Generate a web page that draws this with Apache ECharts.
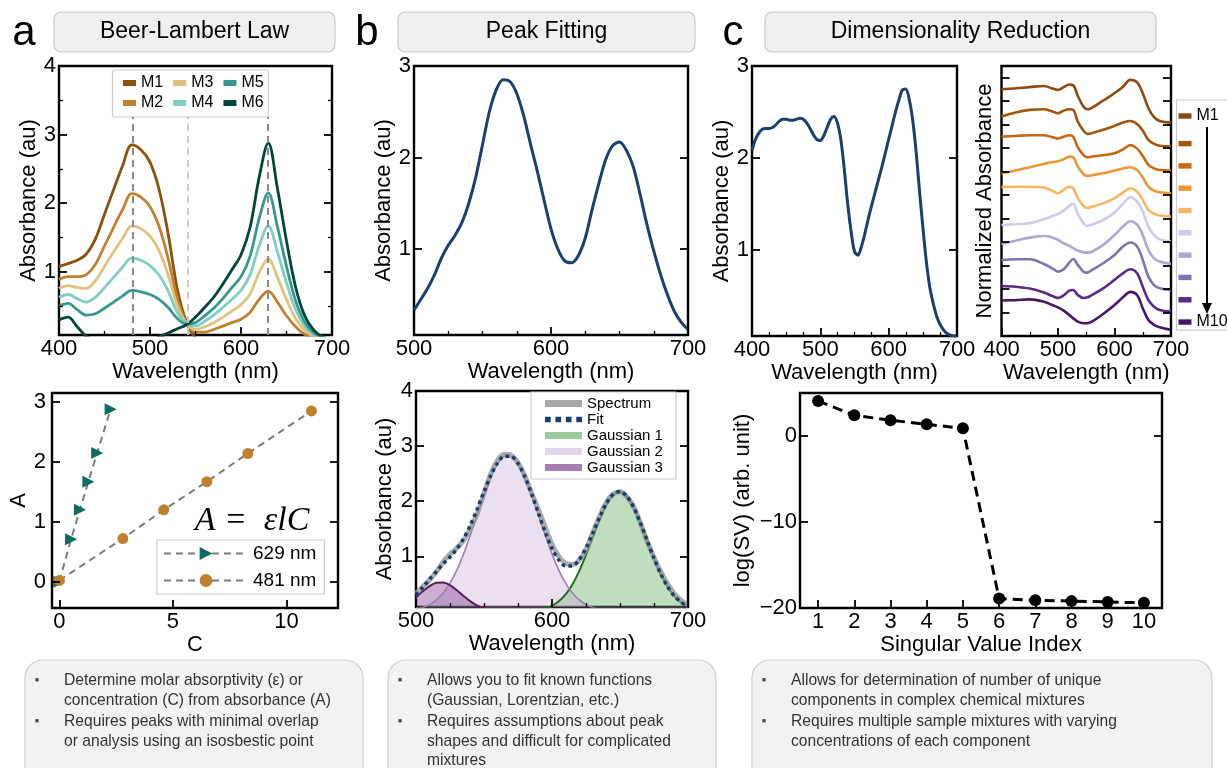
<!DOCTYPE html>
<html><head><meta charset="utf-8">
<script src="https://cdn.jsdelivr.net/npm/echarts@6/dist/echarts.min.js"></script>
<style>html,body{margin:0;padding:0;background:#fff}#chart{width:1227px;height:768px}</style>
</head><body><div id="chart"></div>
<script>
// ================= DATA =================
// Panel a (top): Beer-Lambert spectra
const wlA = [400,410,420,430,440,450,460,470,480,490,500,510,520,530,540,550,560,570,580,590,600,610,620,630,640,650,660,670,680,690,700];
const absM1 = [1.08,1.12,1.17,1.26,1.48,1.84,2.2,2.55,2.85,2.78,2.6,2.2,1.55,0.75,0.27,0.04,0,0,0,0,0,0,0,0,0,0,0,0,0,0,0];
const absM2 = [0.89,0.93,0.93,0.96,1.11,1.38,1.65,1.91,2.14,2.09,1.95,1.66,1.19,0.61,0.26,0.12,0.12,0.16,0.21,0.26,0.31,0.41,0.6,0.72,0.56,0.36,0.2,0.09,0.04,0.01,0];
const absM3 = [0.76,0.8,0.77,0.76,0.87,1.08,1.29,1.49,1.67,1.63,1.52,1.31,0.95,0.51,0.25,0.16,0.2,0.26,0.34,0.43,0.52,0.68,0.99,1.19,0.92,0.6,0.32,0.15,0.06,0.02,0];
const absM4 = [0.63,0.67,0.61,0.56,0.63,0.77,0.92,1.07,1.2,1.17,1.09,0.95,0.72,0.41,0.25,0.21,0.28,0.37,0.48,0.6,0.73,0.96,1.38,1.67,1.29,0.84,0.45,0.21,0.09,0.03,0.01];
const absM5 = [0.5,0.54,0.45,0.37,0.39,0.47,0.56,0.65,0.73,0.71,0.67,0.6,0.48,0.32,0.24,0.26,0.36,0.47,0.61,0.77,0.93,1.23,1.78,2.15,1.66,1.08,0.58,0.27,0.11,0.04,0.01];
const absM6 = [0.3,0.34,0.2,0.06,0.01,0,0,0,0,0,0,0.05,0.11,0.17,0.23,0.34,0.48,0.63,0.82,1.03,1.25,1.65,2.38,2.88,2.22,1.45,0.78,0.36,0.15,0.05,0.01];
const namesA = ['M1','M2','M3','M4','M5','M6'];
const refLinesA = [481, 541, 629];

// Panel a (bottom): calibration lines
const conc629 = [0, 0.52, 0.91, 1.28, 1.67, 2.26];
const abs629  = [0, 0.71, 1.2, 1.67, 2.15, 2.88];
const conc481 = [0, 2.8, 4.6, 6.5, 8.3, 11.1];
const abs481  = [0.02, 0.72, 1.2, 1.67, 2.14, 2.85];

// Panel b: peak fitting
const wlB = [500,505,510,515,520,525,530,535,540,545,550,555,560,565,570,575,580,585,590,595,600,605,610,615,620,625,630,635,640,645,650,655,660,665,670,675,680,685,690,695,700];
const spectrumB = [0.33,0.45,0.57,0.72,0.9,1.04,1.15,1.29,1.5,1.78,2.14,2.5,2.74,2.85,2.83,2.7,2.46,2.15,1.85,1.53,1.22,1.0,0.87,0.85,0.93,1.12,1.43,1.72,1.98,2.13,2.17,2.08,1.9,1.6,1.27,0.98,0.72,0.5,0.32,0.2,0.12];
const fitB = [0.296,0.435,0.584,0.728,0.86,0.988,1.134,1.322,1.566,1.859,2.173,2.466,2.694,2.817,2.814,2.685,2.446,2.131,1.78,1.438,1.145,0.932,0.822,0.825,0.94,1.149,1.421,1.707,1.958,2.126,2.175,2.092,1.89,1.608,1.284,0.963,0.678,0.449,0.279,0.163,0.09];
const gauss1B = [0,0,0,0,0,0,0,0,0,0,0,0,0,0,0,0,0,0.012,0.026,0.053,0.102,0.183,0.309,0.49,0.731,1.025,1.35,1.669,1.938,2.116,2.17,2.09,1.89,1.608,1.284,0.963,0.678,0.449,0.279,0.163,0.09];
const gauss2B = [0.038,0.071,0.124,0.209,0.335,0.513,0.749,1.043,1.385,1.754,2.119,2.441,2.683,2.813,2.813,2.683,2.441,2.119,1.754,1.385,1.043,0.749,0.513,0.335,0.209,0.124,0.071,0.038,0.02,0.01,0.005,0.002,0,0,0,0,0,0,0,0,0];
const gauss3B = [0.258,0.364,0.46,0.519,0.525,0.475,0.385,0.279,0.181,0.105,0.054,0.025,0.011,0.004,0.001,0,0,0,0,0,0,0,0,0,0,0,0,0,0,0,0,0,0,0,0,0,0,0,0,0,0];

// Panel c (top left): mixture spectrum
const wlC1 = [400,405,410,415,420,425,430,435,440,445,450,455,460,465,470,475,480,485,490,495,500,505,510,515,520,525,530,535,540,545,550,555,560,565,570,575,580,585,590,595,600,605,610,615,620,625,630,635,640,645,650,655,660,665,670,675,680,685,690,695,700];
const absC1 = [2.08,2.2,2.27,2.31,2.32,2.32,2.33,2.36,2.4,2.42,2.42,2.41,2.41,2.42,2.43,2.42,2.38,2.32,2.25,2.2,2.19,2.24,2.33,2.42,2.45,2.38,2.2,1.88,1.5,1.2,0.98,0.94,1.03,1.17,1.33,1.48,1.62,1.76,1.9,2.05,2.2,2.35,2.5,2.63,2.74,2.75,2.64,2.42,2.08,1.65,1.25,0.88,0.6,0.42,0.28,0.19,0.13,0.09,0.07,0.06,0.06];

// Panel c (top right): normalized, offset spectra of 10 mixtures
const wlC2 = [400,425,450,475,490,500,510,520,527,535,545,552,560,580,600,615,628,640,650,660,670,680,700];
const mixC1  = [10.51,10.55,10.60,10.65,10.54,10.48,10.60,10.71,10.68,10.23,9.77,9.66,9.72,10.03,10.34,10.62,10.91,10.80,10.34,9.70,9.32,9.16,9.09];
const mixC2  = [9.35,9.52,9.63,9.66,9.56,9.49,9.60,9.66,9.63,9.13,8.75,8.61,8.64,8.78,8.95,9.09,9.16,9.03,8.75,8.35,8.18,8.10,8.07];
const mixC3  = [8.49,8.52,8.55,8.55,8.47,8.41,8.49,8.55,8.49,8.04,7.71,7.61,7.64,7.70,7.78,7.95,8.13,7.98,7.67,7.29,7.14,7.07,7.05];
const mixC4  = [6.93,7.05,7.19,7.33,7.41,7.44,7.53,7.64,7.61,7.22,6.90,6.82,6.85,6.93,7.05,7.13,7.19,7.07,6.76,6.36,6.19,6.12,6.08];
const mixC5  = [6.34,6.36,6.36,6.32,6.19,6.08,6.22,6.36,6.29,5.87,5.54,5.45,5.51,5.65,5.87,6.11,6.29,6.15,5.80,5.37,5.20,5.13,5.09];
const mixC6  = [4.73,4.76,4.80,4.97,5.11,5.20,5.34,5.54,5.63,5.20,4.80,4.69,4.74,4.94,5.26,5.63,5.91,5.72,5.30,4.66,4.30,4.12,4.02];
const mixC7  = [3.92,4.06,4.19,4.26,4.20,4.09,3.95,3.84,3.74,3.64,3.57,3.55,3.59,3.88,4.30,4.66,4.89,4.74,4.30,3.66,3.31,3.17,3.07];
const mixC8  = [3.24,3.27,3.27,3.07,2.88,2.74,2.84,3.13,3.28,3.03,2.74,2.70,2.81,3.10,3.45,3.81,3.98,3.81,3.24,2.53,2.17,2.03,1.96];
const mixC9  = [2.13,2.10,2.02,1.85,1.70,1.62,1.73,1.93,1.96,1.75,1.62,1.65,1.75,2.03,2.39,2.67,2.84,2.67,2.10,1.53,1.25,1.11,1.04];
const mixC10 = [1.51,1.53,1.56,1.46,1.32,1.22,1.08,0.89,0.75,0.61,0.54,0.54,0.61,0.94,1.32,1.65,1.88,1.75,1.18,0.68,0.47,0.37,0.26];
const mixNamesC = ['Mixture 1','Mixture 2','Mixture 3','Mixture 4','Mixture 5','Mixture 6','Mixture 7','Mixture 8','Mixture 9','Mixture 10'];

// Panel c (bottom): singular values
const svIndex = [1,2,3,4,5,6,7,8,9,10];
const logSV = [4.07, 2.41, 1.83, 1.36, 0.9, -18.9, -19.1, -19.2, -19.3, -19.4];

// Text
const titles = ['Beer-Lambert Law', 'Peak Fitting', 'Dimensionality Reduction'];
const panelLetters = ['a', 'b', 'c'];
const notesA = ['Determine molar absorptivity (\u03b5) or', 'concentration (C) from absorbance (A)', 'Requires peaks with minimal overlap', 'or analysis using an isosbestic point'];
const notesB = ['Allows you to fit known functions', '(Gaussian, Lorentzian, etc.)', 'Requires assumptions about peak', 'shapes and difficult for complicated', 'mixtures'];
const notesC = ['Allows for determination of number of unique', 'components in complex chemical mixtures', 'Requires multiple sample mixtures with varying', 'concentrations of each component'];
const bulletLines = [0, 2];

// ================= STYLE / LAYOUT =================
const FONT = "'Liberation Sans', Arial, Helvetica, sans-serif";
const colorsA = ['#8c510a','#bf812d','#dfc27d','#80cdc1','#35978f','#01463a'];
const colorsC = ['#8b4a12','#a6530c','#c9690f','#ec9636','#fbb55f','#cdcbe5','#aea7d0','#8271af','#5a2a8a','#451768'];
const zip = (xs, ys) => xs.map((x, i) => [x, ys[i]]);

const grids = [], xAxes = [], yAxes = [];
function axisDef(gi, pos, s, kind) {
  const isMain = kind === 'main';
  const isMinor = kind === 'minor' || kind === 'mirrorMinor';
  const isX = pos === 'bottom' || pos === 'top';
  const ax = {
    type: 'value', gridIndex: gi, position: pos, min: s.min, max: s.max,
    axisLine: {show: false, onZero: false},
    splitLine: {show: false},
    axisTick: {show: true, inside: true, length: isMinor ? 4 : 8,
      customValues: isMinor ? s.minor : s.major, lineStyle: {color: '#000', width: isMinor ? 1.3 : 1.8}},
    axisLabel: {show: isMain && s.labels !== false, customValues: s.major, margin: s.margin == null ? 3 : s.margin,
      color: '#000', fontSize: 22, fontFamily: FONT,
      formatter: v => String(v).replace('-', '\u2212')},
    silent: true, z: 5
  };
  if (isMain && s.name) {
    Object.assign(ax, {name: s.name, nameLocation: 'middle', nameGap: s.gap, nameRotate: isX ? 0 : 90,
      nameTextStyle: {fontSize: 22, color: '#000', fontFamily: FONT}});
  }
  return ax;
}
function addPanel(box, xs, ys) {
  const gi = grids.length;
  grids.push({left: box[0], top: box[1], width: box[2], height: box[3], show: true,
    borderColor: '#000', borderWidth: 2.4, backgroundColor: 'rgba(0,0,0,0)'});
  const xi = xAxes.length, yi = yAxes.length;
  xAxes.push(axisDef(gi, 'bottom', xs, 'main'));
  if (xs.minor) xAxes.push(axisDef(gi, 'bottom', xs, 'minor'));
  yAxes.push(axisDef(gi, 'left', ys, 'main'));
  if (ys.minor) yAxes.push(axisDef(gi, 'left', ys, 'minor'));
  yAxes.push(axisDef(gi, 'right', ys, 'mirror'));
  if (ys.minor) yAxes.push(axisDef(gi, 'right', ys, 'mirrorMinor'));
  return {xi, yi};
}

const WL = 'Wavelength (nm)', ABS = 'Absorbance (au)';
const pA1 = addPanel([59, 66, 273, 269],
  {min: 400, max: 700, major: [400,500,600,700], minor: [450,550,650], name: WL, gap: 24},
  {min: 0.08, max: 4, major: [1,2,3,4], minor: [0.5,1.5,2.5,3.5], name: ABS, gap: 18});
const pA2 = addPanel([52, 393, 286, 215],
  {min: -0.32, max: 12.27, major: [0,5,10], name: 'C', gap: 22},
  {min: -0.44, max: 3.15, major: [0,1,2,3], name: 'A', gap: 19, margin: 6});
const pB1 = addPanel([414, 66, 274, 269],
  {min: 500, max: 700, major: [500,600,700], minor: [525,550,575,625,650,675], name: WL, gap: 24},
  {min: 0.06, max: 3, major: [1,2,3], name: ABS, gap: 18});
const pB2 = addPanel([416, 391, 272, 216],
  {min: 500, max: 700, major: [500,600,700], minor: [525,550,575,625,650,675], name: WL, gap: 24},
  {min: 0.08, max: 4, major: [1,2,3,4], name: ABS, gap: 20});
const pC1 = addPanel([752, 66, 205, 270],
  {min: 400, max: 700, major: [400,500,600,700], minor: [425,450,475,525,550,575,625,650,675], name: WL, gap: 24},
  {min: 0.06, max: 3, major: [1,2,3], name: ABS, gap: 14});
const pC2 = addPanel([1001.5, 66, 169.5, 270],
  {min: 400, max: 700, major: [400,500,600,700], minor: [450,550,650], name: WL, gap: 24},
  {min: 0, max: 11.5, major: [1,2,3,4,5,6,7,8,9,10,11], labels: false, name: 'Normalized Absorbance', gap: 6});
const pC3 = addPanel([800, 393, 362, 215],
  {min: 0.5, max: 10.5, major: svIndex, name: 'Singular Value Index', gap: 24},
  {min: -20, max: 5, major: [-20,-10,0], name: 'log(SV) (arb. unit)', gap: 46});

// ================= SERIES =================
const series = [];
const absA = [absM1, absM2, absM3, absM4, absM5, absM6];
absA.forEach((arr, i) => {
  const s = {type: 'line', name: namesA[i], xAxisIndex: pA1.xi, yAxisIndex: pA1.yi,
    data: zip(wlA, arr), smooth: 0.35, symbol: 'none', z: 3,
    lineStyle: {width: 2.8, color: colorsA[i]}, itemStyle: {color: colorsA[i]}};
  if (i === absA.length - 1) {
    s.markLine = {symbol: 'none', silent: true, label: {show: false}, animation: false,
      data: refLinesA.map(w => [
        {coord: [w, 0.08], lineStyle: {color: w === 541 ? '#c8c8c8' : '#8a8a8a', type: [7, 5], width: 2}},
        {coord: [w, 3.26]}])};
  }
  series.push(s);
});

series.push({type: 'line', name: '629 nm', xAxisIndex: pA2.xi, yAxisIndex: pA2.yi, data: zip(conc629, abs629),
  symbol: 'triangle', symbolRotate: -90, symbolSize: 12, itemStyle: {color: '#0b6b5e'},
  lineStyle: {color: '#7a7a7a', width: 2, type: [7, 5]}, z: 4});
series.push({type: 'line', name: '481 nm', xAxisIndex: pA2.xi, yAxisIndex: pA2.yi, data: zip(conc481, abs481),
  symbol: 'circle', symbolSize: 11, itemStyle: {color: '#bf812d'},
  lineStyle: {color: '#7a7a7a', width: 2, type: [7, 5]}, z: 4});

series.push({type: 'line', name: 'Absorbance b', xAxisIndex: pB1.xi, yAxisIndex: pB1.yi, data: zip(wlB, spectrumB),
  smooth: 0.3, symbol: 'none', lineStyle: {width: 3, color: '#1b3f6e'}});

series.push({type: 'line', name: 'Gaussian 1', xAxisIndex: pB2.xi, yAxisIndex: pB2.yi, data: zip(wlB, gauss1B),
  smooth: 0.3, symbol: 'none', lineStyle: {width: 2, color: '#1e6e1e'}, itemStyle: {color: '#1e6e1e'},
  areaStyle: {color: 'rgba(86,168,86,0.55)', origin: 'start'}, z: 2});
series.push({type: 'line', name: 'Gaussian 2', xAxisIndex: pB2.xi, yAxisIndex: pB2.yi, data: zip(wlB, gauss2B),
  smooth: 0.3, symbol: 'none', lineStyle: {width: 1.6, color: '#a57ab5'}, itemStyle: {color: '#a57ab5'},
  areaStyle: {color: 'rgba(196,166,212,0.5)', origin: 'start'}, z: 2});
series.push({type: 'line', name: 'Gaussian 3', xAxisIndex: pB2.xi, yAxisIndex: pB2.yi, data: zip(wlB, gauss3B),
  smooth: 0.3, symbol: 'none', lineStyle: {width: 2, color: '#5b1a5e'}, itemStyle: {color: '#5b1a5e'},
  areaStyle: {color: 'rgba(130,62,142,0.6)', origin: 'start'}, z: 2});
series.push({type: 'line', name: 'Spectrum', xAxisIndex: pB2.xi, yAxisIndex: pB2.yi, data: zip(wlB, spectrumB),
  smooth: 0.3, symbol: 'none', lineStyle: {width: 5, color: 'rgba(150,150,150,0.8)'}, itemStyle: {color: '#a8a8a8'}, z: 3});
series.push({type: 'line', name: 'Fit', xAxisIndex: pB2.xi, yAxisIndex: pB2.yi, data: zip(wlB, fitB),
  smooth: 0.3, symbol: 'none', lineStyle: {width: 3.5, color: '#163d6b', type: [3.5, 3.5]}, itemStyle: {color: '#163d6b'}, z: 4});

series.push({type: 'line', name: 'Absorbance c', xAxisIndex: pC1.xi, yAxisIndex: pC1.yi, data: zip(wlC1, absC1),
  smooth: 0.3, symbol: 'none', lineStyle: {width: 3, color: '#1b3f6e'}});

const mixC = [mixC1, mixC2, mixC3, mixC4, mixC5, mixC6, mixC7, mixC8, mixC9, mixC10];
mixC.forEach((arr, i) => series.push({type: 'line', name: mixNamesC[i], xAxisIndex: pC2.xi, yAxisIndex: pC2.yi,
  data: zip(wlC2, arr), smooth: 0.35, symbol: 'none', lineStyle: {width: 2.6, color: colorsC[i]}, itemStyle: {color: colorsC[i]}}));

series.push({type: 'line', name: 'log(SV)', xAxisIndex: pC3.xi, yAxisIndex: pC3.yi, data: zip(svIndex, logSV),
  symbol: 'circle', symbolSize: 12, itemStyle: {color: '#000'}, lineStyle: {color: '#000', width: 3, type: [10, 6]}});

// ================= LEGENDS =================
const legTxt = (size) => ({fontSize: size, color: '#000', fontFamily: FONT});
const legends = [
  {data: ['M1','M3','M5'], left: 123, top: 75, orient: 'horizontal', icon: 'rect', itemWidth: 13, itemHeight: 6, itemGap: 10, textStyle: legTxt(16), padding: 0, selectedMode: false, z: 6},
  {data: ['M2','M4','M6'], left: 123, top: 95, orient: 'horizontal', icon: 'rect', itemWidth: 13, itemHeight: 6, itemGap: 10, textStyle: legTxt(16), padding: 0, selectedMode: false, z: 6},
  {data: ['629 nm','481 nm'], left: 157, top: 540, orient: 'vertical', itemWidth: 84, itemHeight: 16, itemGap: 8,
   textStyle: legTxt(19), padding: [4, 8, 4, 6], borderColor: '#cccccc', borderWidth: 1.2, backgroundColor: '#fff', selectedMode: false, z: 6},
  {data: [
     {name: 'Spectrum', icon: 'rect', itemStyle: {color: '#a8a8a8'}},
     {name: 'Fit', icon: 'path://M0 0h6v6h-6z M11 0h6v6h-6z M22 0h6v6h-6z M33 0h6v6h-6z', itemStyle: {color: '#163d6b'}},
     {name: 'Gaussian 1', icon: 'rect', itemStyle: {color: '#9ccb9c'}},
     {name: 'Gaussian 2', icon: 'rect', itemStyle: {color: '#e2d4e8'}},
     {name: 'Gaussian 3', icon: 'rect', itemStyle: {color: '#a87db2'}}],
   left: 531, top: 392, orient: 'vertical', itemWidth: 37, itemHeight: 7, itemGap: 1,
   textStyle: legTxt(15), padding: [4, 13, 4, 14], borderColor: '#cccccc', borderWidth: 1.2, backgroundColor: '#fff', selectedMode: false, z: 6},
  {data: mixNamesC, left: 1176.5, top: 100, orient: 'vertical', icon: 'path://M0 0h12v5h-12z', itemWidth: 13, itemHeight: 16, itemGap: 11.6,
   formatter: n => n === mixNamesC[0] ? 'M1' : (n === mixNamesC[9] ? 'M10' : ''),
   textStyle: legTxt(16), padding: [8, 40, 0, 2], borderColor: '#cccccc', borderWidth: 1.2, backgroundColor: '#fff', selectedMode: false, z: 6}
];

// ================= GRAPHICS (boxes, titles, notes) =================
const graphics = [];
function rect(x, y, w, h, r, fill, stroke, z) {
  graphics.push({type: 'rect', shape: {x, y, width: w, height: h, r}, style: {fill, stroke, lineWidth: 1.2}, z: z || 0, silent: true});
}
function text(str, x, y, st, extra) {
  graphics.push(Object.assign({type: 'text', x, y, z: 10, silent: true,
    style: Object.assign({text: str, fill: '#000', fontSize: 22, fontFamily: FONT, align: 'center', verticalAlign: 'middle',
      textAlign: 'center', textVerticalAlign: 'middle'}, st)}, extra || {}));
}
const titleBoxes = [[54, 12, 281], [398, 12, 297], [765, 12, 391]];
titleBoxes.forEach((b, i) => {
  rect(b[0], b[1], b[2], 40, 7, '#efefef', '#c8c8c8');
  text(titles[i], b[0] + b[2] / 2, 32, {fontSize: 23});
});
[[24, 33], [367, 33], [733, 33]].forEach((p, i) => text(panelLetters[i], p[0], p[1], {fontSize: 42}));

// legend frame of panel a (two legend rows share one frame)
rect(112.5, 70, 156, 47, 2, '#ffffff', '#cccccc', 5);
// Beer-Lambert formula
text('A =  \u03b5lC', 252, 521, {fontSize: 34, fontStyle: 'italic', fontFamily: "'Liberation Serif', 'DejaVu Serif', serif"});
// arrow beside M1..M10 legend
graphics.push({type: 'line', shape: {x1: 1207, y1: 127, x2: 1207, y2: 305}, style: {stroke: '#000', lineWidth: 2}, z: 10, silent: true});
graphics.push({type: 'polygon', shape: {points: [[1202, 303], [1212, 303], [1207, 314]]}, style: {fill: '#000'}, z: 10, silent: true});

// notes boxes
const noteBoxes = [[25, 338, notesA], [388, 328, notesB], [752, 460, notesC]];
const lineY = [680, 700, 721, 741, 760];
noteBoxes.forEach(([x, w, lines]) => {
  rect(x, 660, w, 140, 18, '#f2f2f2', '#cfcfcf');
  lines.forEach((ln, j) => {
    if (bulletLines.includes(j)) text('\u25aa', x + 12, lineY[j], {fontSize: 13, fill: '#444'});
    text(ln, x + 39, lineY[j], {fontSize: 17, fill: '#333', align: 'left', textAlign: 'left'}, {scaleX: 0.92});
  });
});

// ================= CHART =================
const chart = echarts.init(document.getElementById('chart'), null, {renderer: 'canvas'});
chart.setOption({
  animation: false,
  backgroundColor: '#ffffff',
  grid: grids, xAxis: xAxes, yAxis: yAxes,
  legend: legends,
  series: series,
  graphic: {elements: graphics}
});
</script></body></html>
